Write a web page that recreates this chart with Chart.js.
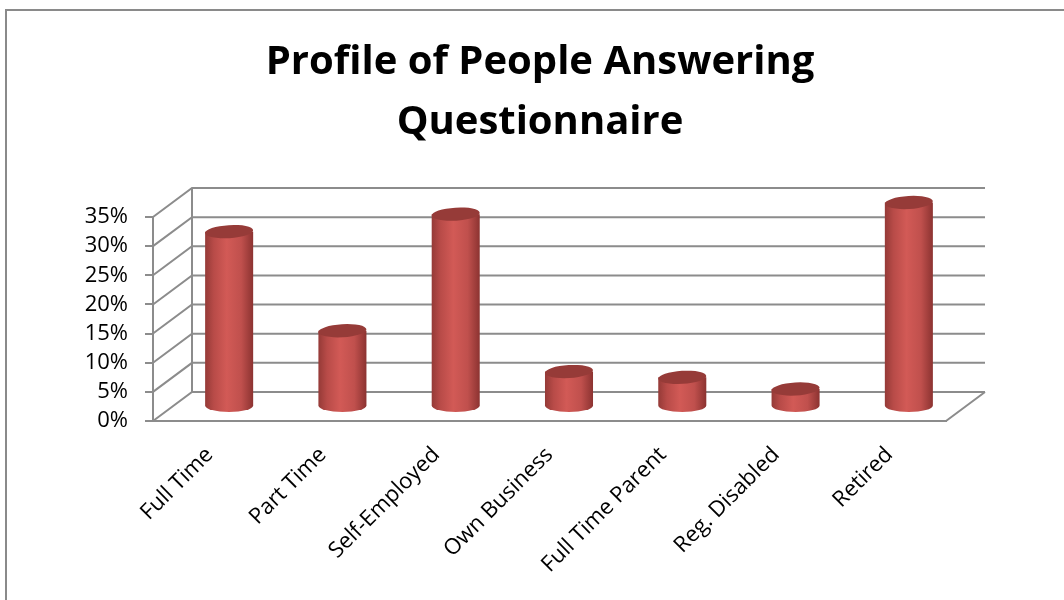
<!DOCTYPE html>
<html>
<head>
<meta charset="utf-8">
<script src="https://cdn.jsdelivr.net/npm/chart.js@4/dist/chart.umd.min.js"></script>
<style>
  html, body { margin: 0; padding: 0; background: #ffffff; }
  #wrap { position: relative; width: 1064px; height: 600px; }
</style>
</head>
<body>
<div id="wrap"><canvas id="c" width="1064" height="600"></canvas></div>
<script>
// ---- data ----
const categories = ['Full Time', 'Part Time', 'Self-Employed', 'Own Business', 'Full Time Parent', 'Reg. Disabled', 'Retired'];
const shares = [30, 13, 33, 6, 5, 3, 35];           // percent of respondents
const titleLines = ['Profile of People Answering', 'Questionnaire'];
const yMin = 0, yMax = 35, yStep = 5;

// ---- 3D styling ----
const DEPTH_X = 39, DEPTH_Y = -29;
const LINE = '#8c8c8c';

const frame3d = {
  id: 'frame3d',
  beforeDraw(chart) {
    const ctx = chart.ctx;
    ctx.save();
    ctx.fillStyle = '#ffffff';
    ctx.fillRect(0, 0, chart.width, chart.height);
    ctx.strokeStyle = '#8a8a8a';
    ctx.lineWidth = 2;
    ctx.beginPath();
    ctx.moveTo(6, chart.height + 5);
    ctx.lineTo(6, 10);
    ctx.lineTo(chart.width + 5, 10);
    ctx.stroke();
    ctx.restore();
  },
  beforeDatasetsDraw(chart) {
    const ctx = chart.ctx, y = chart.scales.y, a = chart.chartArea;
    ctx.save();
    ctx.strokeStyle = LINE;
    ctx.lineWidth = 2;
    ctx.lineCap = 'butt';
    ctx.beginPath();
    y.ticks.forEach(t => {
      const py = y.getPixelForValue(t.value);
      ctx.moveTo(a.left, py);
      ctx.lineTo(a.left + DEPTH_X, py + DEPTH_Y);
      ctx.lineTo(a.right + DEPTH_X, py + DEPTH_Y);
    });
    ctx.moveTo(a.left + DEPTH_X, y.getPixelForValue(yMin) + DEPTH_Y);
    ctx.lineTo(a.left + DEPTH_X, y.getPixelForValue(yMax) + DEPTH_Y);
    ctx.moveTo(a.right, a.bottom);
    ctx.lineTo(a.right + DEPTH_X, a.bottom + DEPTH_Y);
    ctx.stroke();
    ctx.restore();
  },
  afterDatasetsDraw(chart) {
    const ctx = chart.ctx;
    const meta = chart.getDatasetMeta(0);
    meta.data.forEach(bar => {
      const p = bar.getProps(['x', 'y', 'base', 'width'], true);
      const cx = p.x + DEPTH_X / 2;
      const top = p.y + DEPTH_Y / 2;
      const bot = p.base + DEPTH_Y / 2;
      const rx = p.width / 2, ry = 6.5;
      ctx.save();
      const g = ctx.createLinearGradient(cx - rx, 0, cx + rx, 0);
      g.addColorStop(0, '#953a37');
      g.addColorStop(0.18, '#b84b48');
      g.addColorStop(0.45, '#d25a56');
      g.addColorStop(0.75, '#c0504d');
      g.addColorStop(1, '#8c3331');
      ctx.fillStyle = g;
      ctx.beginPath();
      ctx.moveTo(cx - rx, top);
      ctx.lineTo(cx - rx, bot);
      ctx.ellipse(cx, bot, rx, ry, 0, Math.PI, 0, true);
      ctx.lineTo(cx + rx, top);
      ctx.closePath();
      ctx.fill();
      ctx.fillStyle = '#963b38';
      ctx.beginPath();
      ctx.ellipse(cx, top, rx, ry, -0.06, 0, Math.PI * 2);
      ctx.fill();
      ctx.restore();
    });
  }
};

new Chart(document.getElementById('c'), {
  type: 'bar',
  data: {
    labels: categories,
    datasets: [{
      data: shares,
      backgroundColor: 'rgba(0,0,0,0)',
      borderWidth: 0,
      categoryPercentage: 1,
      barPercentage: 0.424
    }]
  },
  options: {
    responsive: false,
    animation: false,
    devicePixelRatio: 1,
    layout: { padding: { left: 16, right: 0, top: 0, bottom: 0 } },
    plugins: {
      legend: { display: false },
      tooltip: { enabled: false },
      title: {
        display: true,
        text: titleLines,
        color: '#000000',
        font: { family: '"Open Sans", sans-serif', size: 40, weight: 'bold', lineHeight: '60px' },
        padding: { top: 33, bottom: 64 }
      }
    },
    scales: {
      x: {
        afterFit(s) { s.height = 179; },
        grid: { display: true, drawOnChartArea: false, drawTicks: false },
        border: { display: true, color: LINE, width: 2 },
        ticks: {
          autoSkip: false, minRotation: 45, maxRotation: 45,
          padding: 21,
          color: '#000000',
          font: { family: '"Open Sans", sans-serif', size: 22 }
        }
      },
      y: {
        min: yMin, max: yMax,
        afterFit(s) { s.width = 137; },
        grid: { display: true, drawOnChartArea: false, drawTicks: true, tickLength: 8, color: LINE, lineWidth: 2 },
        border: { display: true, color: LINE, width: 2 },
        ticks: {
          stepSize: yStep, padding: 17, autoSkip: false,
          color: '#000000',
          font: { family: '"Open Sans", sans-serif', size: 22 },
          callback: v => v + '%'
        }
      },
      yRight: {
        position: 'right',
        min: yMin, max: yMax,
        afterFit(s) { s.width = 118; },
        grid: { display: false },
        border: { display: false },
        ticks: { display: false }
      }
    }
  },
  plugins: [frame3d]
});
</script>
</body>
</html>
